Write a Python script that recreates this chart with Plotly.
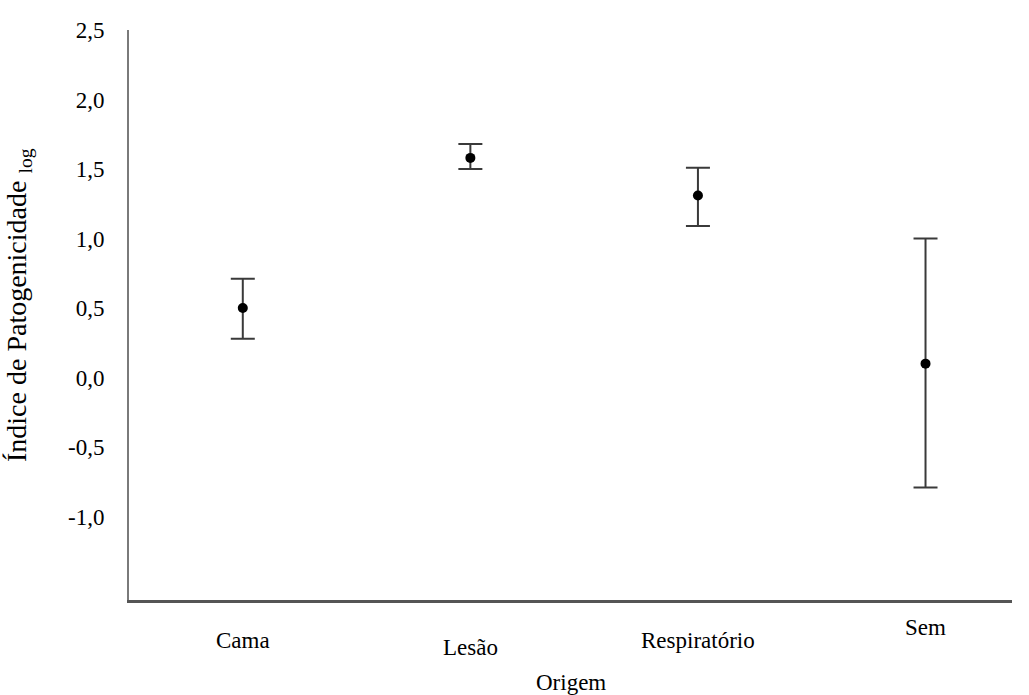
import plotly.graph_objects as go

# Pathogenicity index (log) by isolate origin: mean with upper/lower error
origens = ["Cama", "Lesão", "Respiratório", "Sem"]
media = [0.50, 1.58, 1.31, 0.10]
erro_sup = [0.21, 0.10, 0.20, 0.90]
erro_inf = [0.22, 0.08, 0.22, 0.89]

y_ticks = [-1.0, -0.5, 0.0, 0.5, 1.0, 1.5, 2.0, 2.5]
y_tick_labels = ["-1,0", "-0,5", "0,0", "0,5", "1,0", "1,5", "2,0", "2,5"]
y_title = "Índice de Patogenicidade <sub>log</sub>"
x_title = "Origem"

FONT = "Liberation Serif"
FSIZE = 23
x_pos = list(range(len(origens)))

fig = go.Figure()
fig.add_trace(go.Scatter(
    x=x_pos,
    y=media,
    mode="markers",
    marker=dict(color="black", size=10),
    error_y=dict(
        type="data",
        symmetric=False,
        array=erro_sup,
        arrayminus=erro_inf,
        color="#3a3a3a",
        thickness=2,
        width=12,
    ),
    showlegend=False,
))

# Category labels are staggered vertically below the axis
label_offsets = [-40, -47, -40, -27]
for xi, name, off in zip(x_pos, origens, label_offsets):
    fig.add_annotation(
        x=xi, y=0, xref="x", yref="paper",
        text=name, showarrow=False,
        yanchor="middle", yshift=off,
        font=dict(family=FONT, size=FSIZE, color="black"),
    )

fig.add_annotation(
    x=0.5, y=0, xref="paper", yref="paper",
    text=x_title, showarrow=False,
    yanchor="middle", yshift=-82,
    font=dict(family=FONT, size=FSIZE, color="black"),
)

# Rotated y-axis title
fig.add_annotation(
    x=0, y=0.5, xref="paper", yref="paper",
    text=y_title, showarrow=False, textangle=-90,
    xanchor="center", yanchor="middle",
    xshift=-111, yshift=10,
    font=dict(family=FONT, size=28, color="black"),
)

fig.update_layout(
    width=1029,
    height=695,
    margin=dict(l=129, r=17, t=30, b=95),
    plot_bgcolor="white",
    paper_bgcolor="white",
    font=dict(family=FONT, size=FSIZE, color="black"),
    xaxis=dict(
        range=[-0.5, 3.38],
        showticklabels=False,
        showgrid=False,
        zeroline=False,
        showline=True,
        linecolor="#555555",
        linewidth=3,
        ticks="",
    ),
    yaxis=dict(
        range=[-1.6, 2.5],
        tickvals=y_ticks,
        ticktext=y_tick_labels,
        tickfont=dict(family=FONT, size=FSIZE, color="black"),
        showgrid=False,
        zeroline=False,
        showline=True,
        linecolor="#7a7a7a",
        linewidth=2,
        ticks="",
        ticklabelstandoff=18,
    ),
)

fig.write_html("out.html")
